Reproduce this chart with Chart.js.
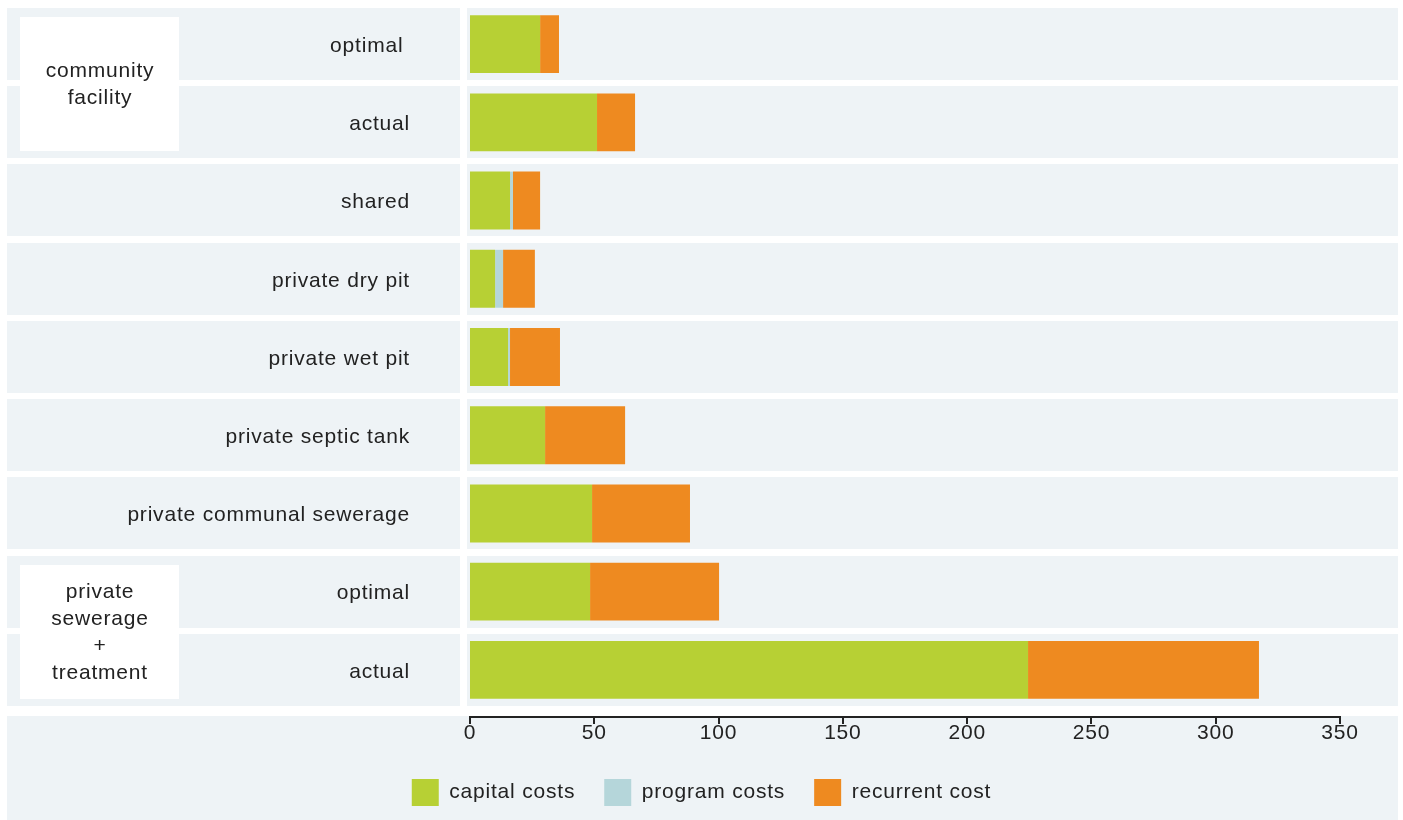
<!DOCTYPE html>
<html>
<head>
<meta charset="utf-8">
<script src="https://cdn.jsdelivr.net/npm/chart.js@4"></script>
<style>
  html, body { margin: 0; padding: 0; background: #fff; }
  #wrap { width: 1403px; height: 820px; }
</style>
</head>
<body>
<div id="wrap"><canvas id="costs" width="1403" height="820"></canvas></div>
<script>
// sanitation options, top to bottom
var options = ['optimal ', 'actual', 'shared', 'private dry pit', 'private wet pit',
  'private septic tank', 'private communal sewerage', 'optimal', 'actual'];
var capitalCosts = [28.2, 51.1, 16.1, 10.1, 15.3, 30.2, 49.1, 48.3, 224.5];
var programCosts = [0, 0, 1.2, 3.2, 0.8, 0, 0, 0, 0];
var recurrentCost = [7.6, 15.3, 10.9, 12.8, 20.1, 32.2, 39.4, 51.9, 92.9];
var xTicks = [0, 50, 100, 150, 200, 250, 300, 350];

// grouped rows with their side caption
var groupLines = [['community', 'facility'], ['private', 'sewerage', '+', 'treatment']];
var groupRows = [[0, 1], [7, 8]];

var panel = '#eef3f6';
var ink = '#222222';
var fontFam = "'Liberation Sans', Arial, sans-serif";
var spacing = '0.8px';

function setSpacing(chart) {
  if ('letterSpacing' in chart.ctx) chart.ctx.letterSpacing = spacing;
}

var backdrop = {
  id: 'backdrop',
  afterInit: setSpacing,
  beforeLayout: setSpacing,
  beforeDraw: function (chart) {
    setSpacing(chart);
    var c = chart.ctx, y = chart.scales.y, x = chart.scales.x;
    var area = chart.chartArea;
    var step = (area.bottom - area.top) / options.length;
    c.save();
    c.fillStyle = panel;
    for (var i = 0; i < options.length; i++) {
      var cy = y.getPixelForValue(i);
      var top = Math.round(cy - step / 2 + 3);
      var h = Math.round(step - 6.5);
      c.fillRect(7, top, 453, h);
      c.fillRect(467, top, 931, h);
    }
    // bottom band behind axis and legend
    var axisY = Math.round(area.bottom + 7);
    c.fillRect(7, axisY, 1391, chart.height - axisY);

    // group caption boxes
    c.font = '21px ' + fontFam;
    c.textAlign = 'center';
    c.textBaseline = 'middle';
    for (var g = 0; g < groupRows.length; g++) {
      var a = y.getPixelForValue(groupRows[g][0]);
      var b = y.getPixelForValue(groupRows[g][1]);
      var mid = Math.round((a + b) / 2);
      c.fillStyle = '#ffffff';
      c.fillRect(20, mid - 66, 159, 134);
      c.fillStyle = ink;
      var lines = groupLines[g];
      for (var k = 0; k < lines.length; k++) {
        c.fillText(lines[k], 100, mid + 2 + (k - (lines.length - 1) / 2) * 27);
      }
    }

    // axis line and tick marks
    c.strokeStyle = ink;
    c.lineWidth = 2;
    c.beginPath();
    c.moveTo(x.getPixelForValue(0) - 1, axisY + 1);
    c.lineTo(x.getPixelForValue(350) + 1, axisY + 1);
    c.stroke();
    x.ticks.forEach(function (t) {
      var px = Math.round(x.getPixelForValue(t.value));
      c.beginPath();
      c.moveTo(px, axisY);
      c.lineTo(px, axisY + 8);
      c.stroke();
    });
    c.restore();
  }
};

new Chart(document.getElementById('costs').getContext('2d'), {
  type: 'bar',
  data: {
    labels: options,
    datasets: [
      { label: 'capital costs', data: capitalCosts, backgroundColor: '#b7d034' },
      { label: 'program costs', data: programCosts, backgroundColor: '#b5d6da' },
      { label: 'recurrent cost', data: recurrentCost, backgroundColor: '#ee8a20' }
    ]
  },
  options: {
    indexAxis: 'y',
    responsive: false,
    animation: false,
    categoryPercentage: 1,
    barPercentage: 0.74,
    layout: { autoPadding: false, padding: { top: 5, right: 63, bottom: 4, left: 63 } },
    scales: {
      x: {
        stacked: true,
        min: 0,
        max: 350,
        afterBuildTicks: function (s) { s.ticks = xTicks.map(function (v) { return { value: v }; }); },
        afterFit: function (s) { s.height = 41; },
        grid: { display: false, drawTicks: false },
        border: { display: false },
        ticks: { color: ink, font: { family: fontFam, size: 21 }, padding: 12, maxRotation: 0 }
      },
      y: {
        stacked: true,
        afterFit: function (s) {
          s.width = 407;
          s.paddingTop = 0;
          s.paddingBottom = 0;
        },
        // tick length stands in for the gap between labels and bars
        grid: { display: false, drawTicks: true, tickLength: 57 },
        border: { display: false },
        ticks: { color: ink, font: { family: fontFam, size: 21 }, padding: 3, labelOffset: 2, autoSkip: false }
      }
    },
    plugins: {
      legend: {
        position: 'bottom',
        labels: {
          color: ink,
          font: { family: fontFam, size: 21 },
          boxWidth: 27,
          boxHeight: 27,
          padding: 29
        }
      },
      tooltip: { enabled: false }
    }
  },
  plugins: [backdrop]
});
</script>
</body>
</html>
